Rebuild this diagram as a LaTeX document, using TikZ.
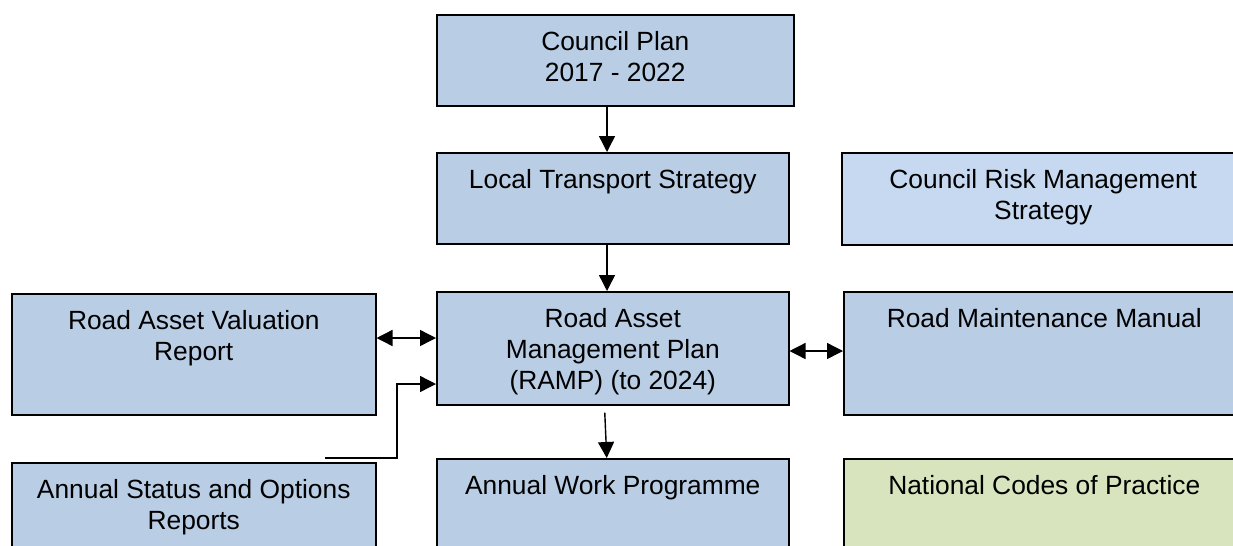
\documentclass[tikz,border=0pt]{standalone}
\usepackage{fontspec}
\setmainfont{Liberation Sans}
\usetikzlibrary{arrows.meta}

\definecolor{planBlue}{RGB}{185,205,229}
\definecolor{riskBlue}{RGB}{198,217,241}
\definecolor{codeGreen}{RGB}{215,228,189}

\tikzset{
  box/.style={draw=black, line width=0.9pt, fill=planBlue, anchor=north west,
    align=center, inner xsep=0pt, inner ysep=0pt, text height=0.72cm,
    font=\fontsize{15pt}{17.6pt}\selectfont},
  twoLines/.style={text height=1.34cm},
  threeLines/.style={text height=1.96cm},
  link/.style={line width=0.8pt, -{Triangle[length=0.32cm,width=0.32cm]}},
  twoWay/.style={line width=0.8pt,
    {Triangle[length=0.32cm,width=0.32cm]}-{Triangle[length=0.32cm,width=0.32cm]}}
}

\begin{document}
\begin{tikzpicture}[x=0.02cm, y=-0.02cm]
  \useasboundingbox (0,0) rectangle (1233,545);
  \clip (0,0) rectangle (1233,545);

  % middle column
  \node[box, twoLines, minimum width=7.14cm, text depth=0.48cm] (councilPlan) at (436,14)
    {Council Plan\\2017 - 2022};
  \node[box, minimum width=7.04cm, text depth=1.10cm] (transportStrategy) at (436,152)
    {Local Transport Strategy};
  \node[box, threeLines, minimum width=7.04cm, text depth=0.30cm] (ramp) at (436,291)
    {Road Asset\\Management Plan\\(RAMP) (to 2024)};
  \node[box, minimum width=7.04cm, text depth=1.40cm] (workProgramme) at (436,458)
    {Annual Work Programme};

  % left column
  \node[box, twoLines, minimum width=7.28cm, text depth=1.08cm] (valuationReport) at (11,293)
    {Road Asset Valuation\\Report};
  \node[box, twoLines, minimum width=7.28cm, text depth=0.70cm] (statusReports) at (11,462)
    {Annual Status and Options\\Reports};

  % right column
  \node[box, twoLines, fill=riskBlue, minimum width=8.06cm, text depth=0.50cm] (riskStrategy) at (841,152)
    {Council Risk Management\\Strategy};
  \node[box, minimum width=8.02cm, text depth=1.74cm] (maintenanceManual) at (843,291)
    {Road Maintenance Manual};
  \node[box, fill=codeGreen, minimum width=8.02cm, text depth=1.40cm] (codesPractice) at (843,458)
    {National Codes of Practice};

  % connectors
  \coordinate (spine) at (607,0);
  \coordinate (valuationLink) at (0,338);
  \coordinate (manualLink) at (0,351);
  \coordinate (statusLink) at (0,384);
  \coordinate (statusFeed) at (325,458);

  \draw[link] (councilPlan.south -| spine) -- (transportStrategy.north -| spine);
  \draw[link] (transportStrategy.south -| spine) -- (ramp.north -| spine);
  \draw[link] ([xshift=-0.16cm, yshift=-0.14cm]ramp.south) -- ([xshift=-0.12cm]workProgramme.north);
  \draw[twoWay] (valuationReport.east |- valuationLink) -- (ramp.west |- valuationLink);
  \draw[twoWay] (ramp.east |- manualLink) -- (maintenanceManual.west |- manualLink);
  \draw[link] (statusFeed) -- ++(72,0) |- (ramp.west |- statusLink);
\end{tikzpicture}
\end{document}
